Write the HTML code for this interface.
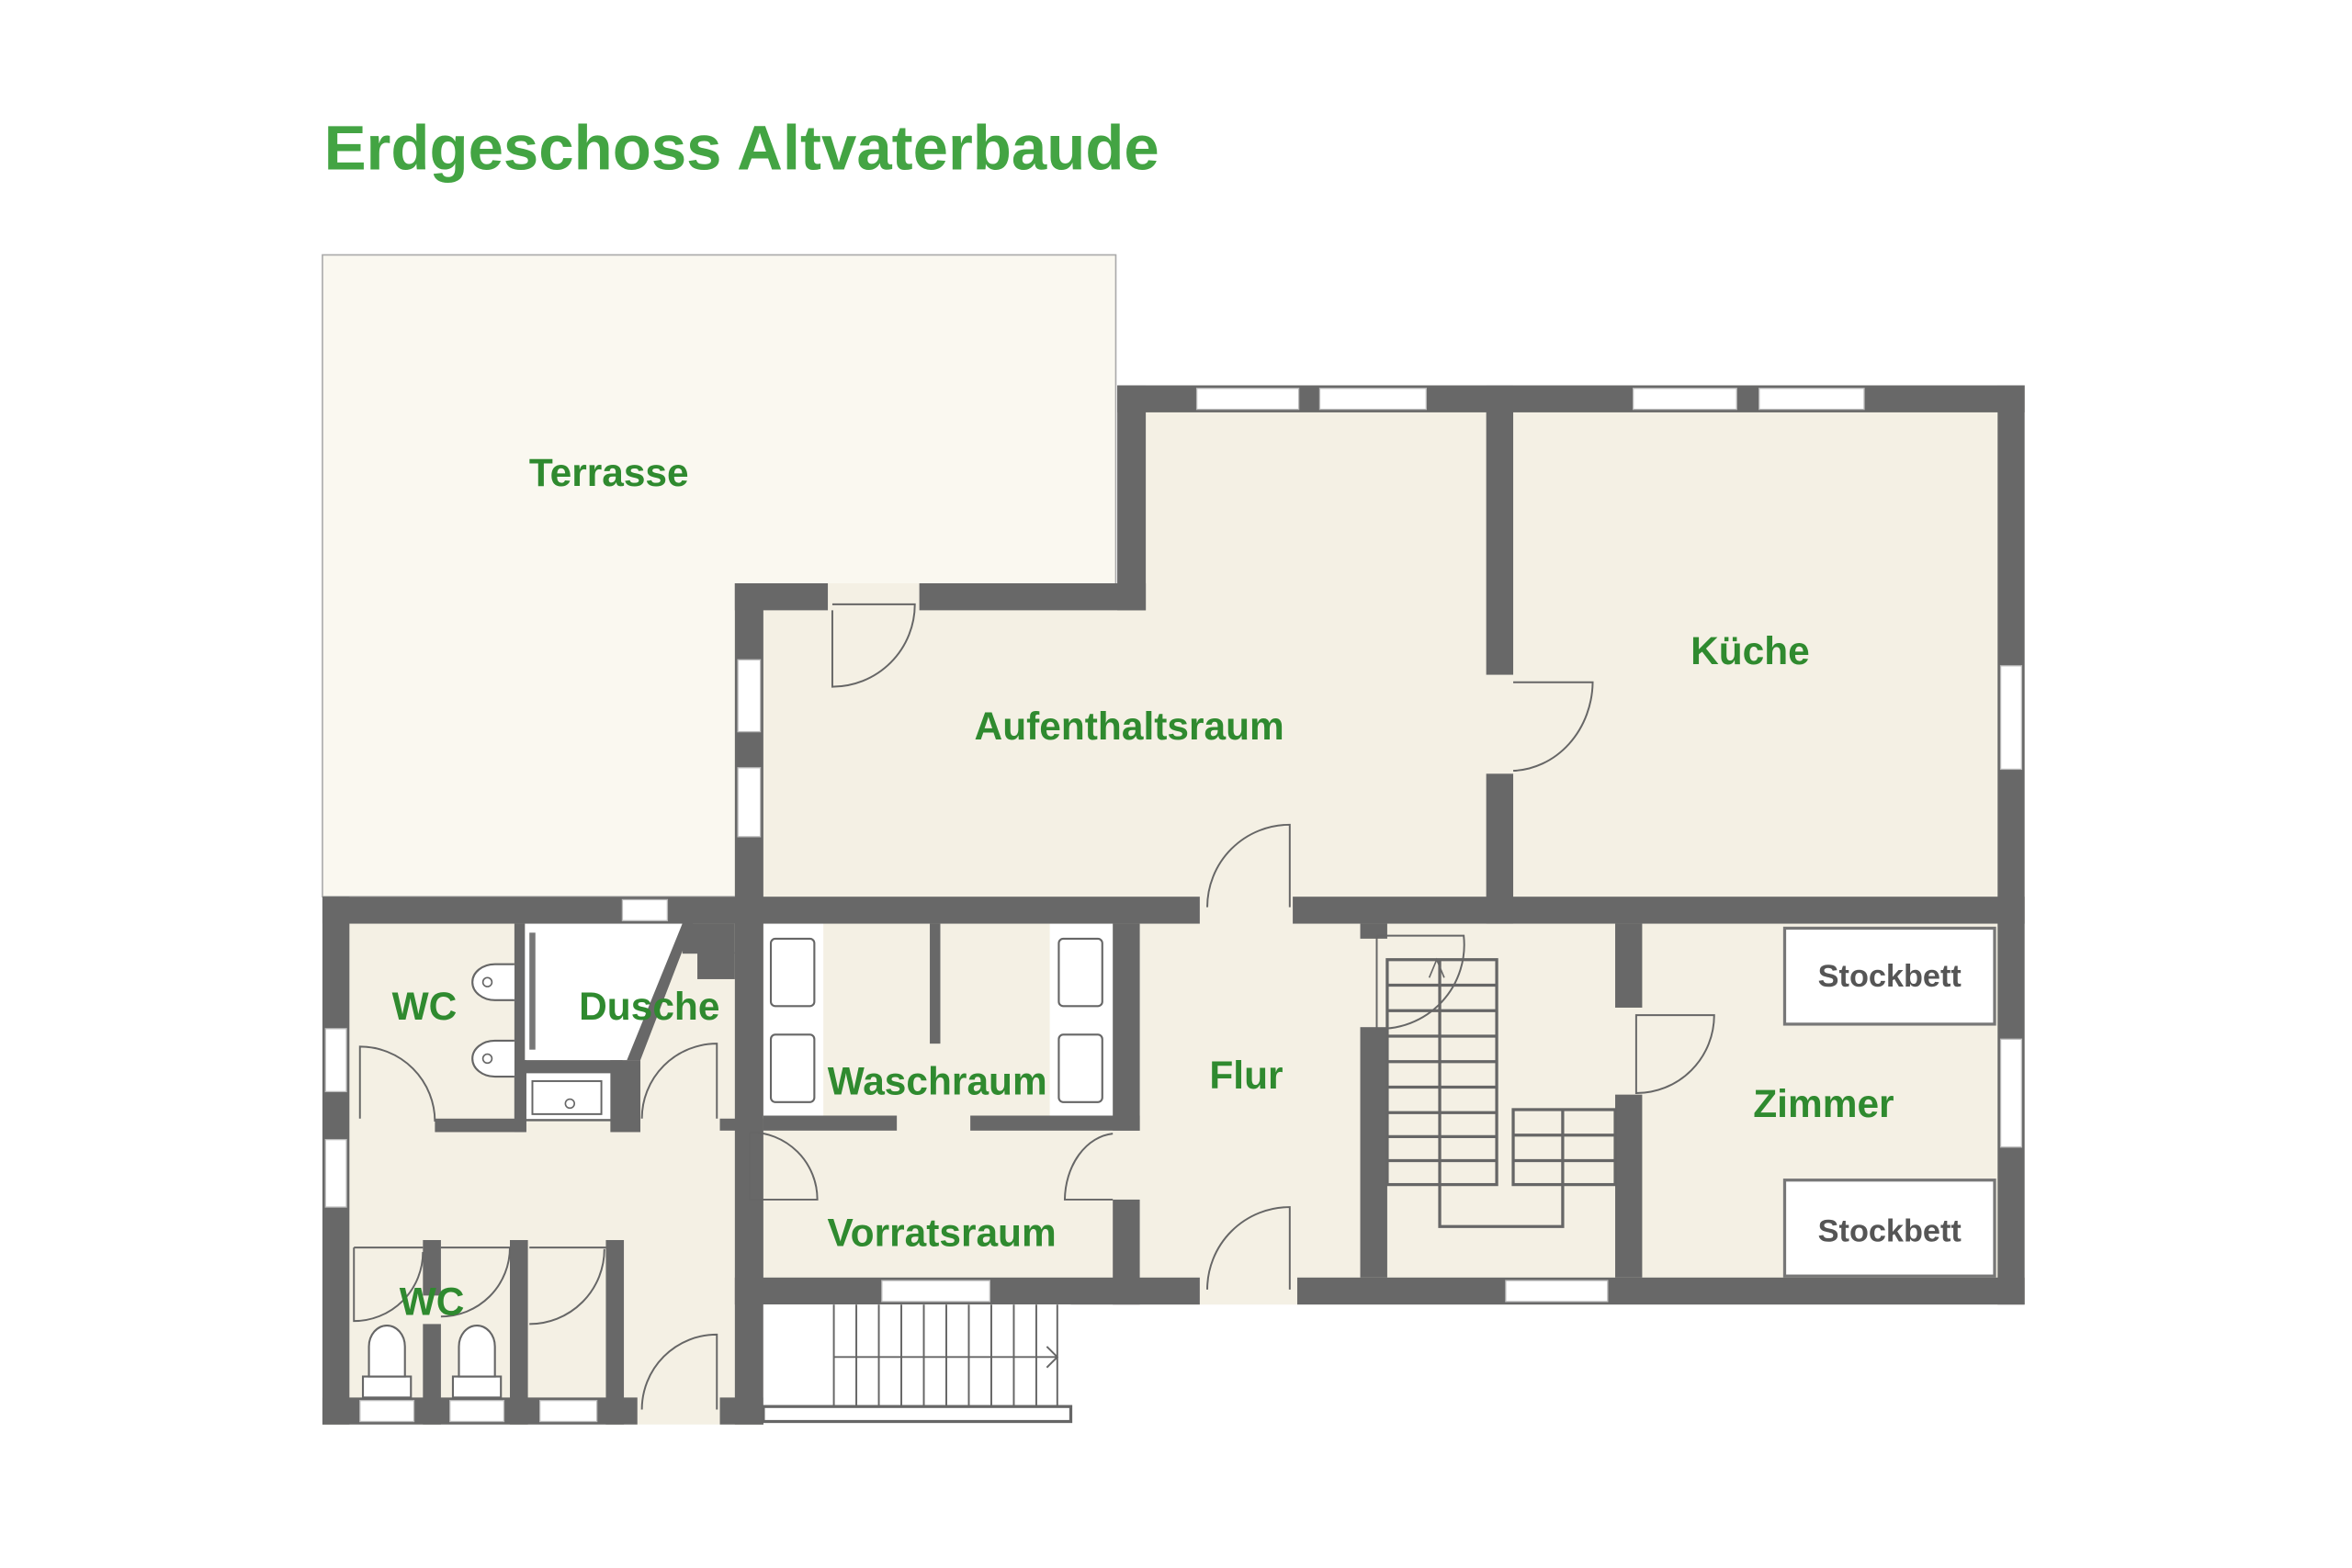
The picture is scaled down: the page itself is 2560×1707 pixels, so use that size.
<!DOCTYPE html>
<html><head><meta charset="utf-8"><style>
html,body{margin:0;padding:0;background:#fff;width:2560px;height:1707px;overflow:hidden}
svg{display:block}
.w{fill:#686868}
.win{fill:#fff;stroke:#bbb;stroke-width:.8}
.d{fill:none;stroke:#666;stroke-width:1.2}
.t{font-family:"Liberation Sans",sans-serif;font-weight:bold;fill:#2f8a2f;font-size:26px;text-anchor:middle}
.sb{font-family:"Liberation Sans",sans-serif;font-weight:bold;fill:#555;font-size:21px;text-anchor:middle}
.st{fill:none;stroke:#666;stroke-width:2}
</style></head><body>
<svg width="2560" height="1707" viewBox="0 0 1568.3 1045.7" preserveAspectRatio="none" xmlns="http://www.w3.org/2000/svg">
<text x="216" y="113" font-family="Liberation Sans,sans-serif" font-weight="bold" font-size="42" fill="#43a443" textLength="557" lengthAdjust="spacingAndGlyphs">Erdgeschoss Altvaterbaude</text>
<rect x="215" y="170" width="529" height="428" fill="#faf8f0" stroke="#aaa" stroke-width="1"/>
<path d="M490 389 H745 V257 H1350 V870 H490 Z" fill="#f4f0e4"/>
<rect x="215" y="598" width="294" height="352" fill="#f4f0e4"/>
<path d="M350 616 H455 L420 707 H350 Z" fill="#fff"/>
<rect x="509" y="616" width="40" height="128" fill="#fff"/>
<rect x="700" y="616" width="42" height="128" fill="#fff"/>
<rect x="350" y="715" width="58" height="32" fill="#fff" stroke="#666" stroke-width="1.5"/>
<rect class="w" x="745" y="257" width="605" height="18"/>
<rect class="w" x="1332" y="257" width="18" height="613"/>
<rect class="w" x="865" y="852" width="485" height="18"/>
<rect class="w" x="490" y="852" width="310" height="18"/>
<rect class="w" x="745" y="257" width="19" height="150"/>
<rect class="w" x="613" y="389" width="151" height="18"/>
<rect class="w" x="490" y="389" width="62" height="18"/>
<rect class="w" x="490" y="389" width="19" height="561"/>
<rect class="w" x="215" y="598" width="585" height="18"/>
<rect class="w" x="862" y="598" width="488" height="18"/>
<rect class="w" x="215" y="598" width="18" height="352"/>
<rect class="w" x="215" y="932" width="210" height="18"/>
<rect class="w" x="480" y="932" width="29" height="18"/>
<rect class="w" x="991" y="257" width="18" height="193"/>
<rect class="w" x="991" y="516" width="18" height="100"/>
<rect class="w" x="343" y="616" width="7" height="130"/>
<rect class="w" x="290" y="746" width="60" height="9"/>
<rect class="w" x="343" y="707" width="72" height="8"/>
<rect class="w" x="343" y="707" width="8" height="48"/>
<rect class="w" x="407" y="707" width="20" height="48"/>
<polygon class="w" points="455,616 462,616 427,707 418,707"/>
<rect class="w" x="455" y="616" width="35" height="20"/>
<rect class="w" x="465" y="635" width="25" height="18"/>
<rect class="w" x="480" y="746" width="29" height="8"/>
<rect class="w" x="282" y="827" width="12" height="37"/>
<rect class="w" x="282" y="883" width="12" height="67"/>
<rect class="w" x="340" y="827" width="12" height="123"/>
<rect class="w" x="404" y="827" width="12" height="123"/>
<rect class="w" x="620" y="616" width="7" height="80"/>
<rect class="w" x="509" y="744" width="89" height="10"/>
<rect class="w" x="647" y="744" width="113" height="10"/>
<rect class="w" x="742" y="616" width="18" height="138"/>
<rect class="w" x="742" y="800" width="18" height="70"/>
<rect class="w" x="907" y="685" width="18" height="167"/>
<rect class="w" x="907" y="616" width="18" height="10"/>
<rect class="w" x="1077" y="616" width="18" height="56"/>
<rect class="w" x="1077" y="730" width="18" height="122"/>
<rect class="win" x="798" y="259" width="68" height="14"/>
<rect class="win" x="880" y="259" width="71" height="14"/>
<rect class="win" x="1089" y="259" width="69" height="14"/>
<rect class="win" x="1173" y="259" width="70" height="14"/>
<rect class="win" x="1334" y="444" width="14" height="69"/>
<rect class="win" x="1334" y="693" width="14" height="72"/>
<rect class="win" x="1004" y="854" width="68" height="14"/>
<rect class="win" x="588" y="854" width="72" height="14"/>
<rect class="win" x="492" y="440" width="15" height="48"/>
<rect class="win" x="492" y="512" width="15" height="46"/>
<rect class="win" x="217" y="686" width="14" height="42"/>
<rect class="win" x="217" y="760" width="14" height="45"/>
<rect class="win" x="240" y="934" width="36" height="14"/>
<rect class="win" x="300" y="934" width="36" height="14"/>
<rect class="win" x="360" y="934" width="38" height="14"/>
<rect class="win" x="415" y="600" width="30" height="14"/>
<rect x="353" y="622" width="4" height="78" fill="#777"/>
<rect x="355" y="721" width="46" height="22" fill="none" stroke="#666" stroke-width="1.2"/>
<circle cx="380" cy="736" r="3" fill="none" stroke="#666"/>
<g fill="#fff" stroke="#666" stroke-width="1.3">
<rect x="514" y="626" width="29" height="45" rx="3"/><rect x="514" y="690" width="29" height="45" rx="3"/>
<rect x="706" y="626" width="29" height="45" rx="3"/><rect x="706" y="690" width="29" height="45" rx="3"/>
<path d="M343 643 H330 A15 12 0 0 0 330 667 H343"/>
<path d="M343 694 H330 A15 12 0 0 0 330 718 H343"/>
<rect x="242" y="918" width="32" height="14"/><rect x="302" y="918" width="32" height="14"/>
<path d="M246 918 V898 A12 14 0 0 1 270 898 V918 Z"/><path d="M306 918 V898 A12 14 0 0 1 330 898 V918 Z"/>
</g>
<circle cx="325" cy="655" r="3" fill="none" stroke="#666"/><circle cx="325" cy="706" r="3" fill="none" stroke="#666"/>
<g class="d">
<path d="M555 407 V458 A55 55 0 0 0 610 403 H555"/>
<path d="M1009 455 H1062 A55 60 0 0 1 1009 514"/>
<path d="M805 605 A55 55 0 0 1 860 550 V605"/>
<path d="M805 860 A55 55 0 0 1 860 805 V860"/>
<path d="M240 746 V698 A50 50 0 0 1 290 748"/>
<path d="M428 746 A50 50 0 0 1 478 696 V746"/>
<path d="M500 755 V800 H545 A45 45 0 0 0 500 755"/>
<path d="M742 756 A35 45 0 0 0 710 800 H742"/>
<path d="M918 624 V686 A56 56 0 0 0 976 624 H918"/>
<path d="M1091 677 H1143 A52 52 0 0 1 1091 729 Z"/>
<path d="M236 832 H282 M236 832 V881 A46 46 0 0 0 282 835"/>
<path d="M294 832 H340 A46 46 0 0 1 294 878"/>
<path d="M353 832 H404 M353 883 A50 50 0 0 0 403 833"/>
<path d="M428 940 A50 50 0 0 1 478 890 V940"/>
</g>
<g class="st" stroke-width="1.5">
<rect x="925" y="640" width="73" height="150"/>
<path d="M925 657 H998 M925 674 H998 M925 691 H998 M925 708 H998 M925 725 H998 M925 742 H998 M925 758 H998 M925 774 H998"/>
<rect x="1009" y="740" width="68" height="50"/>
<path d="M1009 757 H1077 M1009 774 H1077 M1042 740 V818 H960 V640"/>
</g>
<path d="M953 652 L958 640 L963 652" fill="none" stroke="#666"/>
<rect x="509" y="870" width="205" height="78" fill="#fff"/>
<g stroke="#666" stroke-width="1.2" fill="none">
<rect x="509" y="938" width="205" height="10" stroke-width="2"/>
<path d="M556 870 V938 M571 870 V938 M586 870 V938 M601 870 V938 M616 870 V938 M631 870 V938 M646 870 V938 M661 870 V938 M676 870 V938 M691 870 V938 M705 870 V938 M556 905 H705 M698 898 L705 905 L698 912"/>
</g>
<rect x="1190" y="619" width="140" height="64" fill="#fff" stroke="#777" stroke-width="2"/>
<rect x="1190" y="787" width="140" height="64" fill="#fff" stroke="#777" stroke-width="2"/>
<text class="sb" x="1260" y="658">Stockbett</text>
<text class="sb" x="1260" y="828">Stockbett</text>
<text class="t" x="406" y="324">Terrasse</text>
<text class="t" x="1167" y="443">Küche</text>
<text class="t" x="753" y="493">Aufenthaltsraum</text>
<text class="t" x="283" y="680">WC</text>
<text class="t" x="433" y="680">Dusche</text>
<text class="t" x="625" y="730">Waschraum</text>
<text class="t" x="831" y="726">Flur</text>
<text class="t" x="1216" y="745">Zimmer</text>
<text class="t" x="628" y="831">Vorratsraum</text>
<text class="t" x="288" y="877">WC</text>
</svg>
</body></html>
